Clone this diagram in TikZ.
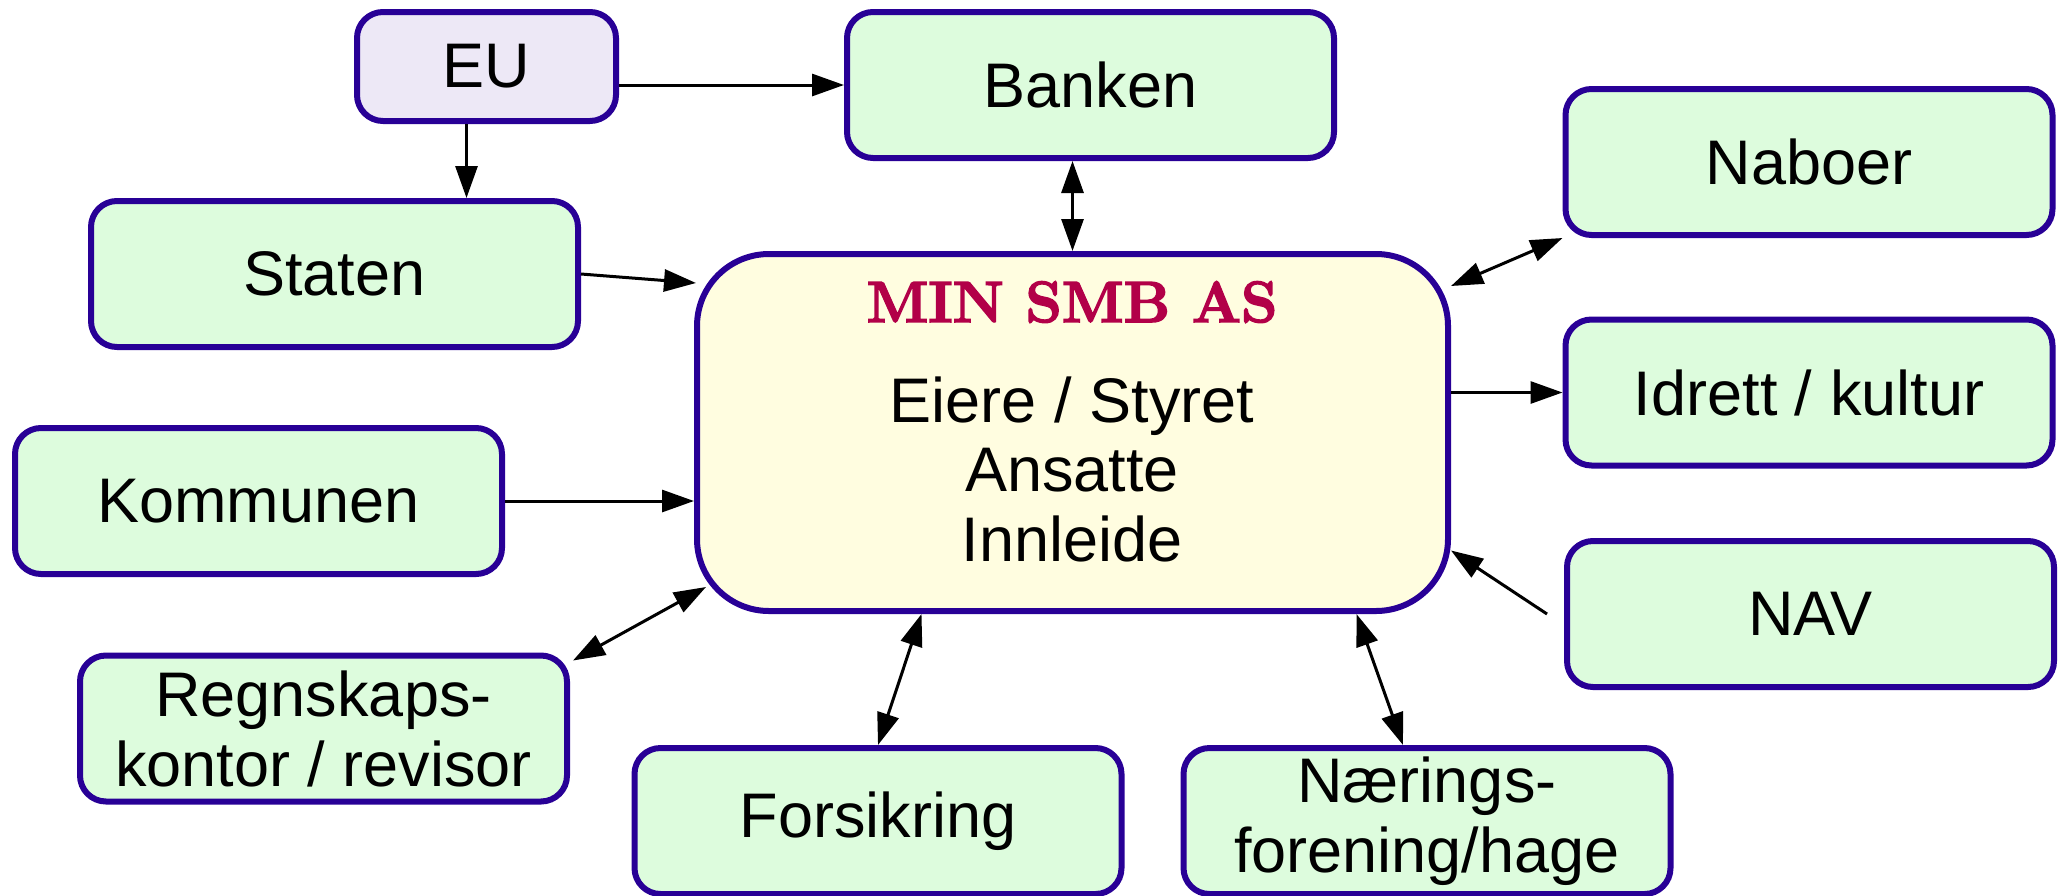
\documentclass[tikz,border=0pt]{standalone}
\usepackage{fontspec}
\newfontfamily\boxsans{Liberation Sans}
\usetikzlibrary{arrows.meta,calc}
\definecolor{bordercol}{RGB}{40,0,150}
\definecolor{boxgreen}{RGB}{221,252,221}
\definecolor{eufill}{RGB}{237,232,246}
\definecolor{mainfill}{RGB}{255,253,224}
\definecolor{titlecol}{RGB}{178,0,72}
\newcommand{\heavytext}[1]{\special{pdf:literal direct 2 Tr 1.6 w}#1\special{pdf:literal direct 0 Tr}}
\tikzset{
  box/.style={draw=bordercol, line width=6pt, rounded corners=26pt, fill=boxgreen,
    minimum width=487pt, minimum height=146pt, inner sep=0pt, align=center,
    font=\boxsans\fontsize{63}{70}\selectfont},
  eubox/.style={box, fill=eufill, minimum width=259pt, minimum height=109pt},
  mainbox/.style={draw=bordercol, line width=6pt, rounded corners=72pt, fill=mainfill,
    minimum width=751pt, minimum height=357pt, inner sep=0pt},
  bodytxt/.style={font=\boxsans\fontsize{63}{70}\selectfont, inner sep=0pt, anchor=base},
  tip/.tip={Triangle[length=32pt,width=22pt]},
  arr/.style={line width=3pt, -tip},
  darr/.style={line width=3pt, tip-tip},
}
\begin{document}
\begin{tikzpicture}[x=1pt,y=-1pt]
\useasboundingbox (0,0) rectangle (2069,895);
% boxes
\node[eubox] (eu) at (486.5,66.5) {EU};
\node[box] (banken) at (1090.5,85) {Banken};
\node[box] (naboer) at (1809,162) {Naboer};
\node[box] (staten) at (334.5,274) {Staten};
\node[mainbox] (main) at (1072.5,432.5) {};
\node[box] (idrett) at (1809,392.5) {Idrett / kultur};
\node[box] (kommunen) at (258.5,501) {Kommunen};
\node[box] (nav) at (1810.5,614) {NAV};
\node[box] (regn) at (323.5,728.5) {Regnskaps-\\kontor / revisor};
\node[box] (fors) at (878,821) {Forsikring};
\node[box] (naer) at (1427,821) {Nærings-\\forening/hage};
% main contents
\node[inner sep=0pt, text=titlecol, font=\fontsize{58}{64}\selectfont\bfseries] (title) at (1072,302) {\heavytext{MIN SMB AS}};
\node[bodytxt] (b1) at (1072,422) {Eiere / Styret};
\node[bodytxt] (b2) at (1072,491) {Ansatte};
\node[bodytxt] (b3) at (1072,561) {Innleide};
% helper coordinates
\coordinate (eus) at ($(eu.south)+(-20,0)$);
\coordinate (navstart) at ($(nav.west)+(-17,0)$);
% connectors
\draw[arr] (eu.east |- banken.west) -- (banken.west);
\draw[arr] (eus) -- (eus |- staten.north);
\draw[darr] (main.north |- banken.south) -- (main.north);
\draw[arr] (staten.east) -- ($(main.north west)+(2,32)$);
\draw[arr] (kommunen.east) -- (kommunen.east -| main.west);
\draw[darr] ($(regn.north east)+(3,8)$) -- ($(main.south west)+(12,-27)$);
\draw[darr] (fors.north) -- ($(main.south)+(-151,0)$);
\draw[darr] ($(naer.north)+(-24,0)$) -- ($(main.south)+(284,0)$);
\draw[arr] (navstart) -- ($(main.east)+(0,118)$);
\draw[arr] (idrett.west -| main.east) -- (idrett.west);
\draw[darr] (naboer.south west) -- ($(main.north east)+(0,35)$);
\end{tikzpicture}
\end{document}
